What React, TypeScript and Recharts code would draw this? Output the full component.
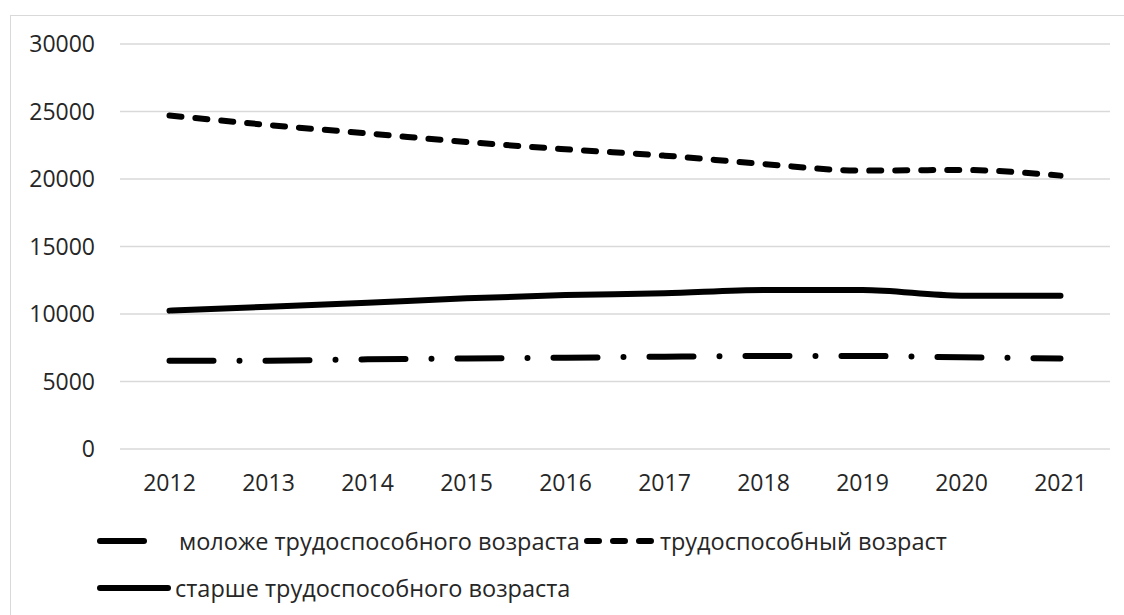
import { CartesianGrid, Line, LineChart, XAxis, YAxis } from "recharts";

const years = ["2012", "2013", "2014", "2015", "2016", "2017", "2018", "2019", "2020", "2021"];
const younger = [6540, 6540, 6640, 6710, 6760, 6840, 6890, 6890, 6790, 6710];
const working = [24700, 24000, 23380, 22740, 22200, 21730, 21110, 20620, 20670, 20250];
const older = [10250, 10540, 10840, 11160, 11400, 11530, 11780, 11780, 11360, 11360];
const yTicks = [0, 5000, 10000, 15000, 20000, 25000, 30000];

const data = years.map((year, i) => ({
  year,
  younger: younger[i],
  working: working[i],
  older: older[i],
}));

const FONT = "'Open Sans', sans-serif";
const TEXT = "#262626";

const series = [
  { key: "younger", name: "моложе трудоспособного возраста", dash: "44 26 0 26" },
  { key: "working", name: "трудоспособный возраст", dash: "12 14" },
  { key: "older", name: "старше трудоспособного возраста", dash: undefined },
];

function LegendIcon({ dash }: { dash?: string }) {
  return (
    <svg width={74} height={12} style={{ display: "block", flex: "none" }}>
      <line
        x1={3}
        y1={6}
        x2={71}
        y2={6}
        stroke="#000"
        strokeWidth={6}
        strokeLinecap="round"
        strokeDasharray={dash}
      />
    </svg>
  );
}

export default function App() {
  return (
    <div style={{ position: "absolute", left: 0, top: 0, width: 1124, height: 615, background: "#fff", overflow: "hidden", fontFamily: FONT }}>
      <div style={{ position: "absolute", left: 10, top: 15, width: 1200, height: 700, border: "1.5px solid #d9d9d9", boxSizing: "border-box" }} />
      <div style={{ position: "absolute", left: 0, top: 0 }}>
        <LineChart width={1124} height={509} data={data} margin={{ top: 44, right: 14, bottom: 0, left: 0 }}>
          <CartesianGrid vertical={false} stroke="#d9d9d9" strokeWidth={1.5} />
          <XAxis
            dataKey="year"
            axisLine={false}
            tickLine={false}
            tickSize={0}
            tickMargin={26}
            height={60}
            padding={{ left: 49.5, right: 49.5 }}
            tick={{ fontSize: 23, fill: TEXT, fontFamily: FONT }}
          />
          <YAxis
            domain={[0, 30000]}
            ticks={yTicks}
            axisLine={false}
            tickLine={false}
            tickSize={0}
            tickMargin={25}
            width={120}
            tick={{ fontSize: 23, fill: TEXT, fontFamily: FONT }}
          />
          {series.map((s) => (
            <Line
              key={s.key}
              type="monotone"
              dataKey={s.key}
              name={s.name}
              stroke="#000"
              strokeWidth={6}
              strokeLinecap="round"
              strokeDasharray={s.dash}
              dot={false}
              activeDot={false}
              isAnimationActive={false}
            />
          ))}
        </LineChart>
      </div>
      <div style={{ position: "absolute", left: 97, top: 526, color: TEXT, fontSize: 23.5, lineHeight: "30px" }}>
        <div style={{ display: "flex", alignItems: "center", height: 30 }}>
          <LegendIcon dash={series[0].dash} />
          <span style={{ marginLeft: 8, marginRight: 4 }}>{series[0].name}</span>
          <LegendIcon dash={series[1].dash} />
          <span style={{ marginLeft: 2 }}>{series[1].name}</span>
        </div>
        <div style={{ display: "flex", alignItems: "center", height: 30, marginTop: 17 }}>
          <LegendIcon dash={series[2].dash} />
          <span style={{ marginLeft: 4 }}>{series[2].name}</span>
        </div>
      </div>
    </div>
  );
}
